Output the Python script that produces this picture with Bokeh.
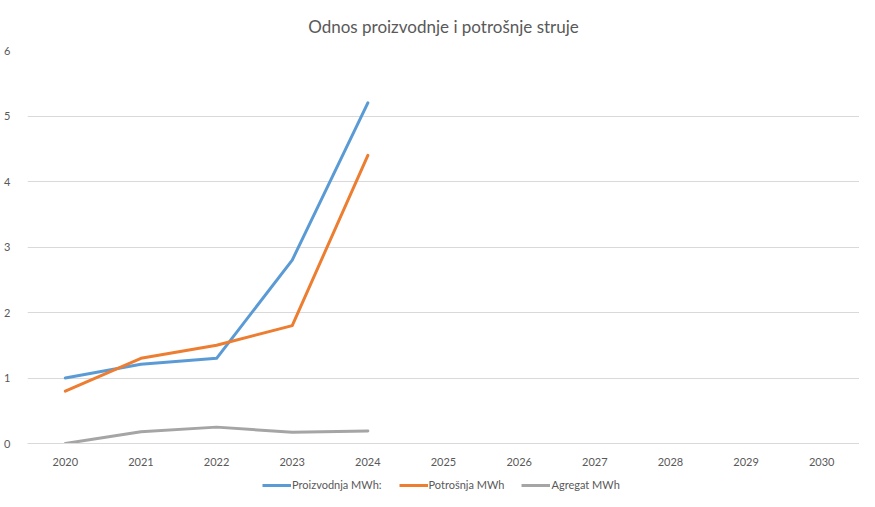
from bokeh.plotting import figure
from bokeh.layouts import column
from bokeh.models import FactorRange, Legend, LegendItem, FixedTicker, Range1d
from bokeh.embed import file_html
from bokeh.resources import INLINE

years = ["2020", "2021", "2022", "2023", "2024", "2025", "2026", "2027", "2028", "2029", "2030"]
data_years = ["2020", "2021", "2022", "2023", "2024"]
proizvodnja = [1.0, 1.21, 1.3, 2.8, 5.2]
potrosnja = [0.8, 1.3, 1.5, 1.8, 4.4]
agregat = [0.0, 0.18, 0.25, 0.17, 0.19]
y_ticks = [0, 1, 2, 3, 4, 5, 6]
series_names = ["Proizvodnja MWh:", "Potrošnja MWh", "Agregat MWh"]
colors = ["#5B9BD5", "#ED7D31", "#A5A5A5"]

FONT = "Lato"
TXT = "#595959"
GRID = "#D9D9D9"
W = 859

p = figure(width=W, height=468, output_backend="svg", toolbar_location=None,
           x_range=FactorRange(factors=years, range_padding=0), y_range=(0, 6),
           title="Odnos proizvodnje i potrošnje struje",
           min_border_left=27, min_border_right=0, min_border_top=8, min_border_bottom=23)

p.title.align = "center"
p.title.text_font = FONT
p.title.text_font_size = "17px"
p.title.text_font_style = "normal"
p.title.text_color = TXT
p.title.standoff = 27

p.outline_line_color = None
p.xgrid.grid_line_color = None
p.ygrid.grid_line_color = GRID
p.ygrid.grid_line_width = 1

p.yaxis.ticker = FixedTicker(ticks=y_ticks)
p.yaxis.axis_line_color = None
p.yaxis.major_tick_line_color = None
p.yaxis.minor_tick_line_color = None
p.yaxis.major_label_text_font = FONT
p.yaxis.major_label_text_font_size = "11px"
p.yaxis.major_label_text_color = TXT
p.yaxis.major_label_standoff = 11

p.xaxis.axis_line_color = GRID
p.xaxis.major_tick_line_color = None
p.xaxis.minor_tick_line_color = None
p.xaxis.major_label_text_font = FONT
p.xaxis.major_label_text_font_size = "11px"
p.xaxis.major_label_text_color = TXT
p.xaxis.major_label_standoff = 8

for ys, c in zip([proizvodnja, potrosnja, agregat], colors):
    p.line(data_years, ys, line_color=c, line_width=3, line_cap="round", line_join="round")

# legend strip below the chart
lg = figure(width=W, height=23, output_backend="svg", toolbar_location=None,
            x_range=Range1d(0, 1), y_range=Range1d(0, 1), x_axis_type=None, y_axis_type=None,
            min_border=0, min_border_left=0, min_border_right=0, min_border_top=0, min_border_bottom=0)
lg.outline_line_color = None
lg.xgrid.visible = False
lg.ygrid.visible = False
items = []
for name, c in zip(series_names, colors):
    r = lg.line([5, 6], [5, 6], line_color=c, line_width=3)
    items.append(LegendItem(label=name, renderers=[r]))
legend = Legend(items=items, orientation="horizontal", location=(235, 0),
                label_text_font=FONT, label_text_font_size="11px", label_text_color=TXT,
                glyph_width=29, glyph_height=12, spacing=17, label_standoff=1,
                border_line_color=None, background_fill_alpha=0, margin=0, padding=0)
lg.add_layout(legend)

layout = column(p, lg, spacing=0)
open("out.html", "w").write(file_html(layout, INLINE))
